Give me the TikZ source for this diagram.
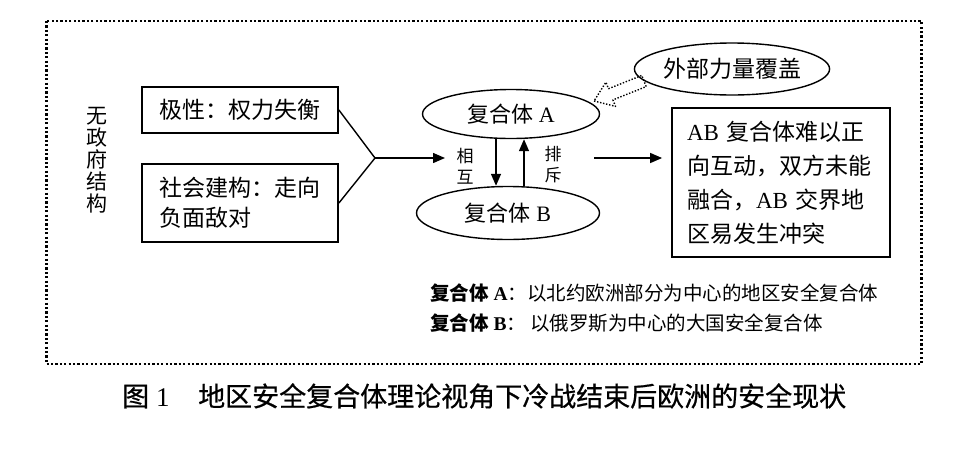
\documentclass[tikz,border=0pt]{standalone}
\usepackage{fontspec}
\setmainfont{Liberation Serif}
\newfontfamily\cjk{Noto Sans CJK SC}
\newfontfamily\cjkcap{Noto Sans CJK SC}[RawFeature={embolden=0.6}]
\usetikzlibrary{arrows.meta,shapes.geometric}
\newcommand\zh[1]{{\cjk #1}}
\begin{document}
\begin{tikzpicture}[x=1pt,y=-1pt,
  frameline/.style={line width=2.2pt, dash pattern=on 2.2pt off 2.2pt},
  boxnode/.style={draw, line width=1.8pt, inner ysep=0pt, align=left},
  ellnode/.style={draw, ellipse, line width=1.4pt, inner sep=0pt},
  arr/.style={-{Triangle[length=12pt,width=10pt]}, line width=1.4pt},
  plain/.style={line width=1.4pt},
  hollow/.style={line width=1.4pt, dash pattern=on 1.4pt off 1.7pt, line join=round},
  tmain/.style={font=\fontsize{23pt}{30pt}\selectfont},
  tsmall/.style={font=\fontsize{17pt}{21pt}\selectfont, align=center, inner sep=0pt},
  tlegend/.style={font=\fontsize{19.5pt}{24pt}\selectfont, anchor=west, inner sep=0pt},
]
\useasboundingbox (0,0) rectangle (973,453);
% dotted frame
\draw[frameline] (46.5,21) rectangle (921.5,364);

% vertical label
\node[font=\fontsize{21pt}{22pt}\selectfont, align=center, inner sep=0pt] (anarchy) at (97,160)
  {\zh{无}\\\zh{政}\\\zh{府}\\\zh{结}\\\zh{构}};

% left boxes
\node[boxnode, tmain, minimum width=196pt, minimum height=46pt, text width=162pt, inner xsep=17pt] (polar) at (240,110)
  {\zh{极性：权力失衡}};
\node[boxnode, tmain, minimum width=196pt, minimum height=78pt, text width=162pt, inner xsep=17pt] (social) at (240,203)
  {\zh{社会建构：走向}\\\zh{负面敌对}};

% junction
\coordinate (j) at (375,158);
\coordinate (jend) at (445,158);
\draw[plain] (polar.east) -- (j);
\draw[plain] (social.east) -- (j);
\draw[arr] (j) -- (jend);

% ellipses
\node[ellnode, font=\fontsize{22pt}{26pt}\selectfont, minimum width=177pt, minimum height=49pt] (A) at (511,114)
  {\zh{复合体} A};
\node[ellnode, font=\fontsize{22pt}{26pt}\selectfont, minimum width=183pt, minimum height=53pt] (B) at (508,213)
  {\zh{复合体} B};
\node[ellnode, tmain, minimum width=175pt, minimum height=52pt] (ext) at (732,69)
  {\zh{外部力量覆盖}};

% mutual arrows
\draw[arr] ([xshift=-15pt]A.south) -- ([xshift=-12pt]B.north);
\draw[arr] ([xshift=16pt]B.north) -- ([xshift=13pt]A.south);
\node[tsmall] (mutual) at (465,166) {\zh{相}\\\zh{互}};
\node[tsmall] (exclude) at (553,165) {\zh{排}\\\zh{斥}};

% hollow dotted arrow from external force to A
\draw[hollow] (594,101) -- (615.5,106.4) -- (612.9,99.9) -- (646.2,86.6)
  -- (641.8,75.4) -- (608.5,88.7) -- (605.9,82.2) -- cycle;

% result box
\node[boxnode, font=\fontsize{23pt}{34pt}\selectfont, minimum width=218pt, minimum height=149pt, text width=188pt, inner xsep=15pt] (result) at (781,182.5)
  {AB \zh{复合体难以正}\\\zh{向互动，双方未能}\\\zh{融合，}AB \zh{交界地}\\\zh{区易发生冲突}};
\coordinate (rs) at (594,158);
\draw[arr, shorten >=9pt] (rs) -- (result.west |- rs);

% legend
\node[tlegend] (legA) at (430,293)
  {\textbf{\zh{复合体} A}\zh{：以北约欧洲部分为中心的地区安全复合体}};
\node[tlegend] (legB) at (430,323)
  {\textbf{\zh{复合体} B}\zh{：}\hspace{4pt}\zh{以俄罗斯为中心的大国安全复合体}};

% caption
\node[font=\fontsize{27pt}{32pt}\selectfont, anchor=west, inner sep=0pt] (caption) at (122,396)
  {{\cjkcap 图}\hspace{7pt}1\hspace{28.5pt}{\cjkcap 地区安全复合体理论视角下冷战结束后欧洲的安全现状}};
\end{tikzpicture}
\end{document}
